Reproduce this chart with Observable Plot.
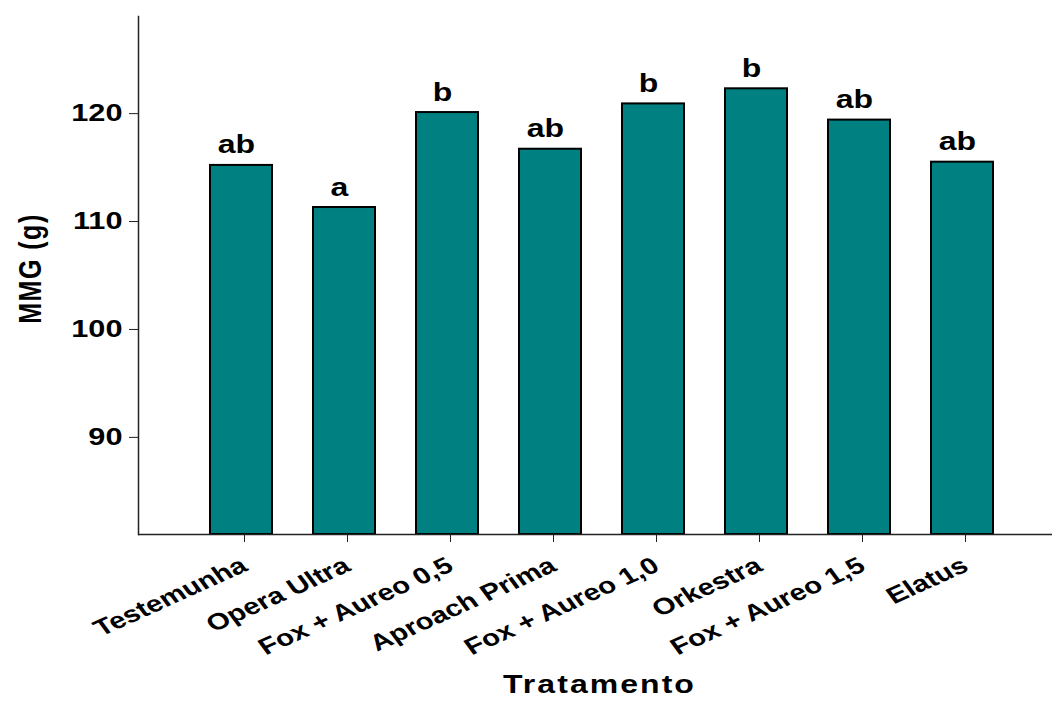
<!DOCTYPE html>
<html>
<head>
<meta charset="utf-8">
<script src="https://cdn.jsdelivr.net/npm/d3@7"></script>
<script src="https://cdn.jsdelivr.net/npm/@observablehq/plot@0.6"></script>
<style>
  html, body { margin: 0; padding: 0; background: #fff; }
  svg { font-family: "Liberation Sans", Arial, sans-serif; }
</style>
</head>
<body>
<div id="chart"></div>
<script>
const categories = ["Testemunha", "Opera Ultra", "Fox + Aureo 0,5", "Aproach Prima", "Fox + Aureo 1,0", "Orkestra", "Fox + Aureo 1,5", "Elatus"];
const values = [115.2, 111.3, 120.1, 116.7, 120.9, 122.3, 119.4, 115.5];
const letters = ["ab", "a", "b", "ab", "b", "b", "ab", "ab"];
const yTicks = [90, 100, 110, 120];
const yDomain = [81, 129];
const xTitle = "Tratamento";
const yTitle = "MMG (g)";

const data = categories.map((c, i) => ({cat: c, value: values[i], letter: letters[i]}));

const chart = Plot.plot({
  width: 1052,
  height: 722,
  marginLeft: 138,
  marginRight: 0,
  marginTop: 16,
  marginBottom: 188,
  style: {fontFamily: "Liberation Sans, Arial, sans-serif", background: "#fff"},
  x: {type: "band", domain: categories, range: [138, 1065], paddingInner: 0.4, paddingOuter: 0.7},
  y: {domain: yDomain},
  marks: [
    Plot.barY(data, {x: "cat", y1: yDomain[0], y2: "value", fill: "#008080", stroke: "#000", strokeWidth: 2}),
    Plot.text(data, {x: "cat", y: "value", text: "letter", dy: -12, dx: -5, lineAnchor: "bottom", textAnchor: "middle", fontSize: 25, fontWeight: "bold", fill: "#000"}),
    Plot.ruleY([yDomain[0]], {stroke: "#222", strokeWidth: 1.5}),
    Plot.frame({anchor: "left", stroke: "#222", strokeWidth: 1.5}),
    Plot.axisY({ticks: yTicks, tickSize: 9, tickPadding: 7, fontSize: 24, fontWeight: "bold", label: null, stroke: "#222", tickFormat: d => d}),
    Plot.axisX({tickSize: 8, tickRotate: -30, tickPadding: 21, dx: 3, fontSize: 23, fontWeight: "bold", label: null, stroke: "#222"}),
    Plot.text([xTitle], {frameAnchor: "bottom", dy: 150, dx: 4, lineAnchor: "middle", textAnchor: "middle", fontSize: 25, fontWeight: "bold", fill: "#000"}),
    Plot.text([yTitle], {frameAnchor: "left", rotate: -90, dx: -108, dy: -7, lineAnchor: "middle", textAnchor: "middle", fontSize: 25, fontWeight: "bold", fill: "#000"})
  ]
});

const S = 1.28; // horizontal stretch of the reference's lettering
const svg = d3.select(chart);
svg.selectAll("text").filter(function() { return this.textContent === xTitle; }).style("letter-spacing", "1.6px");
svg.selectAll("text").filter(function() { return this.textContent === yTitle; }).style("letter-spacing", "1.5px");
svg.selectAll("[aria-label='x-axis tick label'], [aria-label='y-axis tick label']").attr("fill", "#000");
svg.selectAll("text").each(function() {
  const t = this.getAttribute("transform");
  if (t && /^\s*translate\([^)]*\)/.test(t)) {
    this.setAttribute("transform", t.replace(/^\s*(translate\([^)]*\))/, `$1 scale(${S},1)`));
  } else {
    const x = +(this.getAttribute("x") || 0), y = +(this.getAttribute("y") || 0);
    this.setAttribute("transform", `translate(${x},${y}) scale(${S},1) translate(${-x},${-y})` + (t ? " " + t : ""));
  }
});

document.getElementById("chart").appendChild(chart);
</script>
</body>
</html>
